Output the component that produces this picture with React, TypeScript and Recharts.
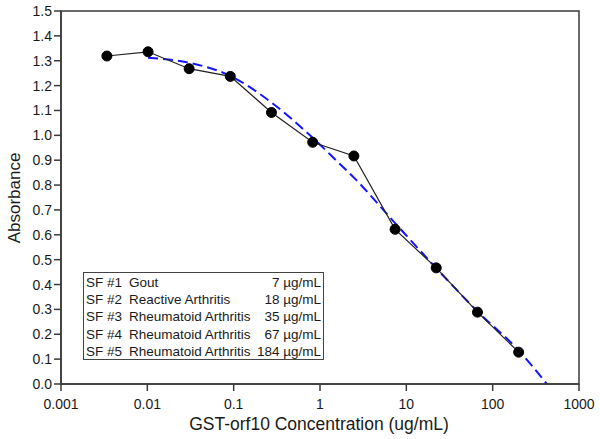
import React from 'react';
import { ComposedChart, Line, XAxis, YAxis, ReferenceArea } from 'recharts';

// Measured data (GST-orf10 concentration, ug/mL vs absorbance)
const concentration = [0.0034, 0.0102, 0.0305, 0.0914, 0.274, 0.823, 2.47, 7.41, 22.2, 66.7, 200];
const absorbance = [1.319, 1.336, 1.268, 1.237, 1.092, 0.972, 0.917, 0.622, 0.467, 0.289, 0.128];

// Fitted curve (blue dashed)
const fitConcentration = [0.0102, 0.0305, 0.0914, 0.274, 0.823, 1.64, 2.47, 7.41, 22.2, 66.7, 200, 425];
const fitAbsorbance = [1.312, 1.292, 1.239, 1.132, 0.99, 0.89, 0.83, 0.647, 0.466, 0.292, 0.135, 0.0];

// Axis ticks
const xTicks = [0.001, 0.01, 0.1, 1, 10, 100, 1000];
const xTickLabels = ['0.001', '0.01', '0.1', '1', '10', '100', '1000'];
const yTicks = [0, 0.1, 0.2, 0.3, 0.4, 0.5, 0.6, 0.7, 0.8, 0.9, 1.0, 1.1, 1.2, 1.3, 1.4, 1.5];

// Axis titles
const xTitle = 'GST-orf10 Concentration (ug/mL)';
const yTitle = 'Absorbance';

// Inset table
const sampleIds = ['SF #1', 'SF #2', 'SF #3', 'SF #4', 'SF #5'];
const diagnoses = ['Gout', 'Reactive Arthritis', 'Rheumatoid Arthritis', 'Rheumatoid Arthritis', 'Rheumatoid Arthritis'];
const sampleLevels = ['7 µg/mL', '18 µg/mL', '35 µg/mL', '67 µg/mL', '184 µg/mL'];

const measured = concentration.map((x, i) => ({ x, y: absorbance[i] }));
const fitted = fitConcentration.map((x, i) => ({ x, y: fitAbsorbance[i] }));

const FONT = '"Liberation Sans", Arial, sans-serif';
const AXIS = '#3a3a3a';
const TEXT = '#1a1a1a';

const XTitle = (props: any) => {
  const vb = props.viewBox || {};
  const cx = (vb.x ?? 61) + (vb.width ?? 518) / 2 - 1;
  return (
    <text x={cx} y={430} textAnchor="middle" fill={TEXT} fontSize={17.5} fontFamily={FONT}>
      {xTitle}
    </text>
  );
};

const YTitle = (props: any) => {
  const vb = props.viewBox || {};
  const cy = (vb.y ?? 11) + (vb.height ?? 373) / 2 + 0.5;
  const bx = 19.5;
  return (
    <text x={bx} y={cy} transform={`rotate(-90 ${bx} ${cy})`} textAnchor="middle" fill={TEXT} fontSize={17} fontFamily={FONT}>
      {yTitle}
    </text>
  );
};

export default function App() {
  return (
    <div style={{ position: 'absolute', left: 0, top: 0, width: 600, height: 439, background: '#fff', fontFamily: FONT }}>
      <ComposedChart width={600} height={439} margin={{ top: 11, right: 21, bottom: 0, left: 0 }}>
        <XAxis
          dataKey="x"
          type="number"
          scale="log"
          domain={[0.001, 1000]}
          ticks={xTicks}
          allowDataOverflow
          tickFormatter={(v: number) => xTickLabels[xTicks.indexOf(v)] ?? String(v)}
          height={55}
          tickSize={7}
          tickMargin={8}
          tickLine={{ stroke: AXIS, strokeWidth: 1.5 }}
          axisLine={{ stroke: AXIS, strokeWidth: 1.5 }}
          tick={{ fill: TEXT, fontSize: 14, fontFamily: FONT }}
          label={<XTitle />}
        />
        <YAxis
          type="number"
          domain={[0, 1.5]}
          ticks={yTicks}
          width={61}
          tickSize={7}
          tickFormatter={(v: number) => v.toFixed(1)}
          tickLine={{ stroke: AXIS, strokeWidth: 1.5 }}
          axisLine={{ stroke: AXIS, strokeWidth: 1.5 }}
          tick={{ fill: TEXT, fontSize: 14, fontFamily: FONT }}
          label={<YTitle />}
        />
        <ReferenceArea x1={0.001} x2={1000} y1={0} y2={1.5} fill="none" stroke={AXIS} strokeWidth={1.5} ifOverflow="visible" />
        <Line
          data={fitted}
          dataKey="y"
          type="monotone"
          stroke="#1414ff"
          strokeWidth={2}
          strokeDasharray="10 5"
          dot={false}
          activeDot={false}
          isAnimationActive={false}
        />
        <Line
          data={measured}
          dataKey="y"
          type="linear"
          stroke="#222"
          strokeWidth={1.2}
          dot={{ r: 5, fill: '#000', stroke: '#000', strokeWidth: 1 }}
          activeDot={false}
          isAnimationActive={false}
        />
      </ComposedChart>
      <div
        style={{
          position: 'absolute',
          left: 83,
          top: 272,
          width: 241,
          height: 88,
          border: '1.5px solid #444',
          background: '#fff',
          fontSize: 13.5,
          color: TEXT,
          lineHeight: '17.4px',
          paddingTop: 0.5,
          boxSizing: 'border-box',
        }}
      >
        {sampleIds.map((id, i) => (
          <div key={id} style={{ position: 'relative', height: 17.4, whiteSpace: 'nowrap' }}>
            <span style={{ position: 'absolute', left: 2 }}>{id}</span>
            <span style={{ position: 'absolute', left: 45 }}>{diagnoses[i]}</span>
            <span style={{ position: 'absolute', right: 2 }}>{sampleLevels[i]}</span>
          </div>
        ))}
      </div>
    </div>
  );
}
